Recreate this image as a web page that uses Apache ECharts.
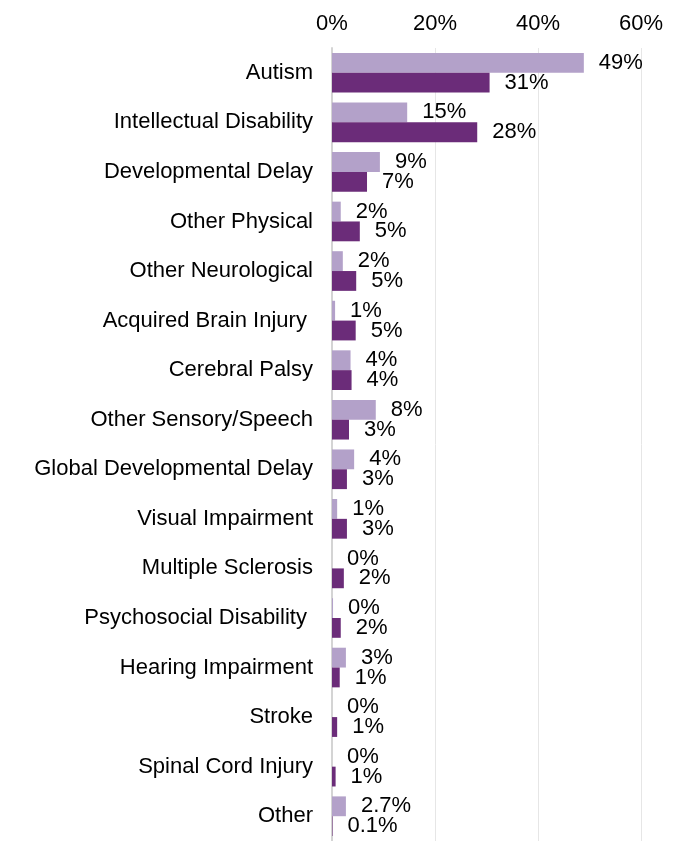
<!DOCTYPE html>
<html>
<head>
<meta charset="utf-8">
<script src="https://cdn.jsdelivr.net/npm/echarts@6/dist/echarts.min.js"></script>
<style>
  html, body { margin: 0; padding: 0; background: #fff; }
  #chart { width: 684px; height: 841px; }
</style>
</head>
<body>
<div id="chart"></div>
<script>
// categories, top to bottom
const categories = [
  "Autism", "Intellectual Disability", "Developmental Delay", "Other Physical",
  "Other Neurological", "Acquired Brain Injury ", "Cerebral Palsy",
  "Other Sensory/Speech", "Global Developmental Delay", "Visual Impairment",
  "Multiple Sclerosis", "Psychosocial Disability ", "Hearing Impairment",
  "Stroke", "Spinal Cord Injury", "Other"
];
// light bars (upper in each pair)
const lightValues = [48.9, 14.6, 9.3, 1.7, 2.1, 0.6, 3.6, 8.5, 4.3, 1.0, 0, 0.2, 2.7, 0, 0, 2.7];
const lightLabels = ["49%", "15%", "9%", "2%", "2%", "1%", "4%", "8%", "4%", "1%", "0%", "0%", "3%", "0%", "0%", "2.7%"];
// dark bars (lower in each pair)
const darkValues = [30.6, 28.2, 6.8, 5.4, 4.7, 4.6, 3.8, 3.3, 2.9, 2.9, 2.3, 1.7, 1.5, 1.0, 0.7, 0.1];
const darkLabels = ["31%", "28%", "7%", "5%", "5%", "5%", "4%", "3%", "3%", "3%", "2%", "2%", "1%", "1%", "1%", "0.1%"];
const xTicks = [0, 20, 40, 60];

const font = "Liberation Sans, Arial, sans-serif";
const chart = echarts.init(document.getElementById("chart"));

function barLabel(labels) {
  return {
    show: true,
    position: "right",
    distance: 15,
    color: "#000",
    fontSize: 22,
    fontFamily: font,
    formatter: p => labels[p.dataIndex]
  };
}

const option = {
  animation: false,
  grid: { left: 332, right: 43, top: 48, bottom: 0 },
  xAxis: {
    type: "value",
    position: "top",
    min: xTicks[0],
    max: xTicks[xTicks.length - 1],
    interval: 20,
    axisLine: { show: false },
    axisTick: { show: false },
    axisLabel: {
      formatter: "{value}%",
      color: "#000",
      fontSize: 22,
      fontFamily: font,
      margin: 13
    },
    splitLine: { lineStyle: { color: "#e6e6e6", width: 1 } }
  },
  yAxis: {
    type: "category",
    inverse: true,
    data: categories,
    axisLine: { show: true, lineStyle: { color: "#d4d4d4", width: 2 } },
    axisTick: { show: false },
    axisLabel: {
      color: "#000",
      fontSize: 22,
      fontFamily: font,
      margin: 19
    }
  },
  series: [
    {
      name: "light",
      type: "bar",
      data: lightValues,
      barGap: "0%",
      barCategoryGap: "20%",
      itemStyle: { color: "#b3a1c9" },
      label: barLabel(lightLabels)
    },
    {
      name: "dark",
      type: "bar",
      data: darkValues,
      itemStyle: { color: "#6b2c79" },
      label: barLabel(darkLabels)
    }
  ]
};

chart.setOption(option);
</script>
</body>
</html>
